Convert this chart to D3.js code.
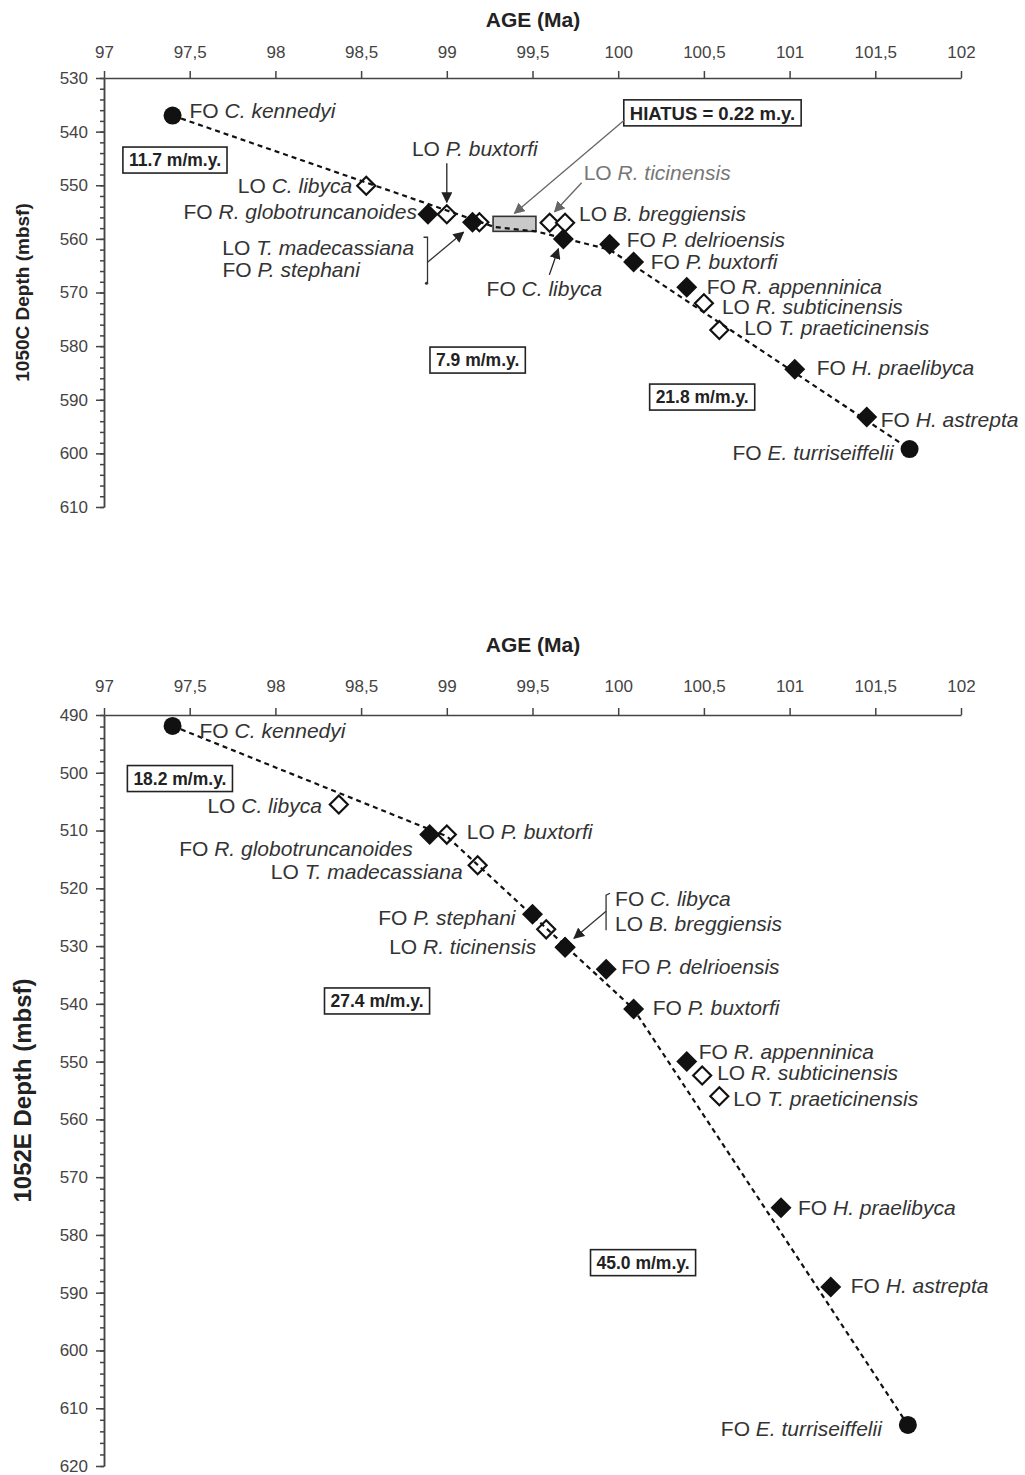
<!DOCTYPE html>
<html>
<head>
<meta charset="utf-8">
<title>Age-depth plots 1050C / 1052E</title>
<script src="https://d3js.org/d3.v7.min.js"></script>
<style>
  body { margin: 0; background: #fff; }
  svg text { font-family: "Liberation Sans", Arial, sans-serif; fill: #333; }
</style>
</head>
<body>
<svg width="1025" height="1475"></svg>
<script>
// ---- data ----
var ageTicks = [97, 97.5, 98, 98.5, 99, 99.5, 100, 100.5, 101, 101.5, 102];

// Site 1050C
var prefix1050 = ["FO", "LO", "FO", "LO", "LO", "FO", "LO", "LO", "FO", "FO", "FO", "FO", "LO", "LO", "FO", "FO", "FO"];
var taxa1050 = ["C. kennedyi", "C. libyca", "R. globotruncanoides", "P. buxtorfi", "T. madecassiana", "P. stephani",
    "R. ticinensis", "B. breggiensis", "C. libyca", "P. delrioensis", "P. buxtorfi", "R. appenninica",
    "R. subticinensis", "T. praeticinensis", "H. praelibyca", "H. astrepta", "E. turriseiffelii"];
var kind1050 = ["dot", "open", "fill", "open", "open", "fill", "open", "open", "fill", "fill", "fill", "fill", "open", "open", "fill", "fill", "dot"];
var age1050 = [97.40, 98.53, 98.89, 99.00, 99.19, 99.15, 99.60, 99.69, 99.68, 99.95, 100.09, 100.40, 100.50, 100.59, 101.03, 101.45, 101.70];
var depth1050 = [537.0, 550.1, 555.4, 555.4, 556.9, 556.9, 557.0, 557.0, 560.0, 561.0, 564.3, 569.0, 572.0, 577.0, 584.3, 593.2, 599.2];
var lineAge1050 = [97.40, 99.28, 99.52, 99.95, 101.70];
var lineDepth1050 = [537.0, 557.8, 558.6, 562.0, 599.2];
var hiatusAge1050 = [99.27, 99.52];
var hiatusDepth1050 = [555.8, 558.6];
var rateText1050 = ["11.7 m/m.y.", "7.9 m/m.y.", "21.8 m/m.y."];
var rateAge1050 = [97.414, 99.18, 100.49];
var rateDepth1050 = [545.3, 582.6, 589.5];
var hiatusText = "HIATUS = 0.22 m.y.";
var hiatusLabelAge = 100.55, hiatusLabelDepth = 536.5;

// Site 1052E
var prefix1052 = ["FO", "LO", "FO", "LO", "LO", "FO", "LO", "FO", "LO", "FO", "FO", "FO", "LO", "LO", "FO", "FO", "FO"];
var taxa1052 = ["C. kennedyi", "C. libyca", "R. globotruncanoides", "P. buxtorfi", "T. madecassiana", "P. stephani",
    "R. ticinensis", "C. libyca", "B. breggiensis", "P. delrioensis", "P. buxtorfi", "R. appenninica",
    "R. subticinensis", "T. praeticinensis", "H. praelibyca", "H. astrepta", "E. turriseiffelii"];
var kind1052 = ["dot", "open", "fill", "open", "open", "fill", "open", "fill", "open", "fill", "fill", "fill", "open", "open", "fill", "fill", "dot"];
var age1052 = [97.40, 98.37, 98.90, 99.00, 99.18, 99.50, 99.58, 99.69, 99.69, 99.93, 100.09, 100.40, 100.49, 100.59, 100.95, 101.24, 101.69];
var depth1052 = [491.9, 505.5, 510.7, 510.7, 516.0, 524.5, 527.1, 530.2, 530.2, 534.0, 540.9, 550.0, 552.4, 556.0, 575.3, 589.0, 612.9];
var lineAge1052 = [97.40, 99.00, 100.09, 101.69];
var lineDepth1052 = [491.9, 511.0, 540.9, 612.9];
var rateText1052 = ["18.2 m/m.y.", "27.4 m/m.y.", "45.0 m/m.y."];
var rateAge1052 = [97.443, 98.593, 100.145];
var rateDepth1052 = [501.0, 539.5, 584.8];

// ---- layout (label offsets from markers, in px) ----
var lab1050 = [[17, -5, "start"], [-14, 0, "end"], [-11, -3, "end"], [28, -66, "middle"], [-257, 25, "start"],
    [-250, 47, "start"], [34, -50, "start"], [14, -9, "start"], [-19, 50, "middle"], [17, -5, "start"],
    [17, 0, "start"], [20, -1, "start"], [18, 3, "start"], [25, -3, "start"], [22, -2, "start"],
    [14, 3, "start"], [-16, 3, "end"]];
var lab1052 = [[27, 4, "start"], [-17, 1, "end"], [-17, 14, "end"], [20, -3, "start"], [-15, 6, "end"],
    [-17, 3, "end"], [-10, 17, "end"], [50, -49, "start"], [50, -24, "start"], [15, -3, "start"],
    [19, -2, "start"], [12, -10, "start"], [15, -3, "start"], [14, 2, "start"], [17, 0, "start"],
    [20, -1, "start"], [-26, 3, "end"]];

var svg = d3.select("svg");
var defs = svg.append("defs");
function arrowMarker(id, color) {
    defs.append("marker").attr("id", id)
        .attr("viewBox", "0 0 10 10").attr("refX", 9).attr("refY", 5)
        .attr("markerWidth", 11).attr("markerHeight", 11)
        .attr("markerUnits", "userSpaceOnUse").attr("orient", "auto")
        .append("path").attr("d", "M0,0L10,5L0,10z").attr("fill", color);
}
arrowMarker("arrDark", "#222");
arrowMarker("arrGray", "#666");

var fmt = function (d) { return String(d).replace(".", ","); };
var diamond = function (r) { return "M0," + (-r) + "L" + r + ",0L0," + r + "L" + (-r) + ",0Z"; };
var drawOrder = { open: 0, fill: 1, dot: 2 };

function rateBox(g, cx, cy, txt, size) {
    var t = g.append("text").attr("x", cx).attr("y", cy).attr("dy", "0.36em")
        .attr("text-anchor", "middle")
        .style("font-weight", "bold").style("font-size", size + "px").style("fill", "#222")
        .text(txt);
    var b = t.node().getBBox();
    var r = { x: b.x - 6, y: cy - 13, w: b.width + 12, h: 26 };
    g.insert("rect", "text").attr("x", r.x).attr("y", r.y).attr("width", r.w).attr("height", r.h)
        .attr("fill", "#fff").attr("stroke", "#222").attr("stroke-width", 1.6);
    return r;
}

function arrow(g, x1, y1, x2, y2, color, id) {
    g.append("line").attr("x1", x1).attr("y1", y1).attr("x2", x2).attr("y2", y2)
        .attr("stroke", color).attr("stroke-width", 1.3).attr("marker-end", "url(#" + id + ")");
}

function drawPanel(p) {
    var x = d3.scaleLinear().domain([97, 102]).range([104, 961]);
    var y = d3.scaleLinear().domain(p.domain).range(p.range);
    var g = svg.append("g");

    g.append("text").attr("x", 533).attr("y", p.titleY)
        .attr("text-anchor", "middle")
        .style("font-weight", "bold").style("font-size", "21px").style("fill", "#222")
        .text("AGE (Ma)");

    // x axis on top
    var xa = g.append("g").attr("transform", "translate(0," + p.range[0] + ")")
        .call(d3.axisTop(x).tickValues(ageTicks).tickFormat(fmt).tickSize(7).tickSizeOuter(0).tickPadding(p.tickPad));
    xa.selectAll("text").style("font-size", "17px").style("fill", "#444");

    // y axis: minor then major
    var minor = d3.range(p.domain[0], p.domain[1] + 0.1, 2);
    var major = d3.range(p.domain[0], p.domain[1] + 0.1, 10);
    g.append("g").attr("transform", "translate(104,0)")
        .call(d3.axisLeft(y).tickValues(minor).tickSize(4).tickFormat("").tickSizeOuter(0));
    var ya = g.append("g").attr("transform", "translate(104,0)")
        .call(d3.axisLeft(y).tickValues(major).tickSize(8).tickPadding(8).tickSizeOuter(0));
    ya.selectAll("text").style("font-size", "17px").style("fill", "#444");
    g.selectAll(".domain, .tick line").attr("stroke", "#444").attr("stroke-width", 1.5);

    g.append("text")
        .attr("transform", "translate(" + p.yTitleX + "," + ((p.range[0] + p.range[1]) / 2) + ") rotate(-90)")
        .attr("text-anchor", "middle")
        .style("font-weight", "bold").style("font-size", p.yTitleSize + "px").style("fill", "#222")
        .text(p.yTitle);

    // hiatus
    if (p.hiatusAge) {
        g.append("rect")
            .attr("x", x(p.hiatusAge[0])).attr("y", y(p.hiatusDepth[0]))
            .attr("width", x(p.hiatusAge[1]) - x(p.hiatusAge[0]))
            .attr("height", y(p.hiatusDepth[1]) - y(p.hiatusDepth[0]))
            .attr("fill", "#c9c9c9").attr("stroke", "#333").attr("stroke-width", 1.6);
    }

    // markers (open behind filled)
    var pts = p.age.map(function (a, i) { return { x: x(a), y: y(p.depth[i]), k: p.kind[i] }; });
    var sorted = pts.slice().sort(function (a, b) { return drawOrder[a.k] - drawOrder[b.k]; });
    var mk = g.append("g").selectAll("g").data(sorted).enter().append("g")
        .attr("transform", function (d) { return "translate(" + d.x + "," + d.y + ")"; });
    mk.filter(function (d) { return d.k === "dot"; }).append("circle").attr("r", 9).attr("fill", "#111");
    mk.filter(function (d) { return d.k === "fill"; }).append("path").attr("d", diamond(10.5)).attr("fill", "#111");
    mk.filter(function (d) { return d.k === "open"; }).append("path").attr("d", diamond(9))
        .attr("fill", "#fff").attr("stroke", "#111").attr("stroke-width", 2.2);

    // age model line
    var line = d3.line().x(function (d) { return x(d[0]); }).y(function (d) { return y(d[1]); });
    g.append("path").datum(p.lineAge.map(function (a, i) { return [a, p.lineDepth[i]]; }))
        .attr("d", line).attr("fill", "none").attr("stroke", "#111")
        .attr("stroke-width", 2.2).attr("stroke-dasharray", "5,4");

    // event labels
    pts.forEach(function (d, i) {
        var l = p.lab[i];
        var t = g.append("text").attr("x", d.x + l[0]).attr("y", d.y + l[1]).attr("dy", "0.36em")
            .attr("text-anchor", l[2]).style("font-size", "21px");
        if (p.grey && p.grey.indexOf(i) >= 0) t.style("fill", "#777");
        t.append("tspan").text(p.prefix[i] + " ");
        t.append("tspan").style("font-style", "italic").text(p.taxa[i]);
    });

    // sedimentation rate boxes
    p.rateText.forEach(function (s, i) {
        rateBox(g, x(p.rateAge[i]), y(p.rateDepth[i]), s, 17.5);
    });

    return { x: x, y: y, g: g, pts: pts };
}

// ---- panel 1050C ----
var A = drawPanel({
    domain: [530, 610], range: [78, 507], titleY: 27, tickPad: 13,
    yTitle: "1050C Depth (mbsf)", yTitleSize: 19, yTitleX: 29,
    prefix: prefix1050, taxa: taxa1050, kind: kind1050, age: age1050, depth: depth1050,
    lineAge: lineAge1050, lineDepth: lineDepth1050,
    hiatusAge: hiatusAge1050, hiatusDepth: hiatusDepth1050,
    rateText: rateText1050, rateAge: rateAge1050, rateDepth: rateDepth1050,
    lab: lab1050, grey: [6]
});
(function () {
    var g = A.g, P = A.pts;
    arrow(g, P[3].x, P[3].y - 51, P[3].x, P[3].y - 12, "#222", "arrDark");
    arrow(g, P[6].x + 32, P[6].y - 40, P[6].x + 5, P[6].y - 11, "#666", "arrGray");
    arrow(g, P[8].x - 14, P[8].y + 36, P[8].x - 5, P[8].y + 10, "#222", "arrDark");
    // bracket for LO T. madecassiana / FO P. stephani
    var bx = P[5].x - 45, by = P[5].y;
    g.append("path").attr("d", "M" + (bx - 4) + "," + (by + 15) + "L" + bx + "," + (by + 15) + "L" + bx + "," + (by + 61))
        .attr("fill", "none").attr("stroke", "#333").attr("stroke-width", 1.3);
    g.append("circle").attr("cx", bx - 1).attr("cy", by + 61).attr("r", 1.6).attr("fill", "#333");
    arrow(g, bx, by + 40, P[5].x - 9, P[5].y + 10, "#333", "arrDark");
    // hiatus callout
    var hb = rateBox(g, A.x(hiatusLabelAge), A.y(hiatusLabelDepth), hiatusText, 18.5);
    var hx = (A.x(hiatusAge1050[0]) + A.x(hiatusAge1050[1])) / 2;
    arrow(g, hb.x + 1, hb.y + hb.h - 6, hx, A.y(hiatusDepth1050[0]) - 3, "#666", "arrGray");
})();

// ---- panel 1052E ----
var B = drawPanel({
    domain: [490, 620], range: [715, 1466], titleY: 652, tickPad: 16,
    yTitle: "1052E Depth (mbsf)", yTitleSize: 24, yTitleX: 31,
    prefix: prefix1052, taxa: taxa1052, kind: kind1052, age: age1052, depth: depth1052,
    lineAge: lineAge1052, lineDepth: lineDepth1052,
    rateText: rateText1052, rateAge: rateAge1052, rateDepth: rateDepth1052,
    lab: lab1052
});
(function () {
    var g = B.g, P = B.pts;
    var bx = P[7].x + 41, by = P[7].y;
    g.append("path").attr("d", "M" + (bx + 4) + "," + (by - 54) + "L" + bx + "," + (by - 52) + "L" + bx + "," + (by - 17))
        .attr("fill", "none").attr("stroke", "#333").attr("stroke-width", 1.3);
    arrow(g, bx, by - 36, P[7].x + 9, P[7].y - 9, "#333", "arrDark");
})();
</script>
</body>
</html>
